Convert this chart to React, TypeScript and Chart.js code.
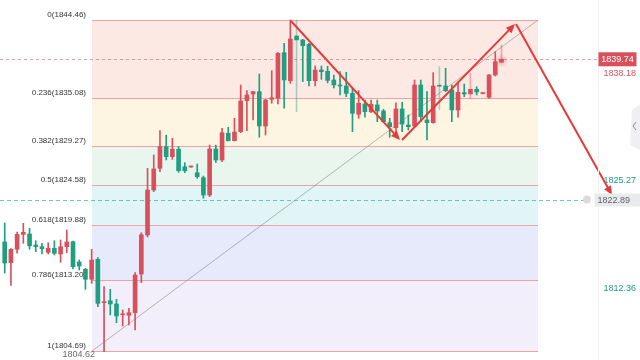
import React, { useEffect, useRef } from "react";
import { Chart, registerables } from "chart.js";

Chart.register(...registerables);

// ---- candle data (index order, left to right) ----
const opens = [
  1817.79, 1815.3, 1816.91, 1818.7, 1818.75, 1817.43, 1817.22, 1816.55, 1817.03, 1816.35,
  1817.22, 1817.82, 1815.38, 1814.51, 1813.31, 1815.71, 1810.5, 1810.73, 1810.34, 1809.04,
  1808.98, 1809.29, 1813.94, 1818.63, 1824.03, 1826.64, 1829.24, 1828.04, 1828.93, 1826.83,
  1826.8, 1826.11, 1825.51, 1823.43, 1828.96, 1827.64, 1830.85, 1829.96, 1831.04, 1834.76,
  1835.57, 1835.85, 1831.72, 1834.93, 1835.05, 1840.53, 1837.17, 1842.54, 1842.06, 1841.54,
  1837.17, 1838.45, 1838.3, 1837.25, 1836.65, 1836.53, 1835.65, 1833.13, 1834.37, 1833.44,
  1834.25, 1833.53, 1832.12, 1831.52, 1833.77, 1831.84, 1831.72, 1836.65, 1832.45, 1832.12,
  1836.55, 1836.53, 1836.05, 1833.65, 1835.73, 1835.57, 1836.13, 1835.62, 1835.17, 1837.85,
  1839.38,
];
const closes = [
  1815.26, 1816.91, 1818.71, 1818.95, 1817.34, 1817.22, 1816.98, 1817.03, 1816.43, 1817.22,
  1817.79, 1814.82, 1814.9, 1813.31, 1815.62, 1810.42, 1810.6, 1810.34, 1808.9, 1809.08,
  1809.29, 1813.82, 1818.66, 1824.03, 1826.56, 1829.24, 1828.04, 1828.93, 1826.35, 1826.35,
  1826.85, 1825.63, 1823.43, 1828.96, 1827.64, 1830.92, 1829.96, 1831.0, 1834.73, 1835.45,
  1835.85, 1831.72, 1834.85, 1835.12, 1840.46, 1837.25, 1842.18, 1842.06, 1841.37, 1837.17,
  1838.45, 1838.25, 1837.2, 1836.65, 1836.53, 1835.65, 1833.25, 1834.45, 1833.44, 1834.33,
  1833.53, 1832.24, 1831.64, 1833.77, 1831.96, 1831.64, 1836.65, 1832.84, 1832.12, 1836.53,
  1836.5, 1835.97, 1833.65, 1835.77, 1835.57, 1836.13, 1835.81, 1835.66, 1837.85, 1839.45,
  1839.74,
];
const highs = [
  1820.07, 1817.0, 1818.99, 1820.03, 1819.43, 1817.94, 1817.63, 1817.7, 1817.94, 1818.03,
  1819.23, 1817.9, 1815.62, 1814.63, 1816.91, 1815.9, 1812.42, 1812.1, 1810.9, 1809.62,
  1809.82, 1814.1, 1818.9, 1826.64, 1828.24, 1831.16, 1830.64, 1830.25, 1829.24, 1827.31,
  1826.9, 1827.16, 1825.71, 1829.44, 1829.44, 1831.45, 1831.57, 1832.65, 1836.65, 1835.97,
  1835.9, 1837.97, 1834.93, 1838.37, 1840.53, 1841.66, 1844.46, 1844.46, 1842.14, 1841.66,
  1838.93, 1838.93, 1838.9, 1837.85, 1838.25, 1838.18, 1836.25, 1835.97, 1834.85, 1834.85,
  1834.85, 1833.73, 1832.65, 1834.52, 1834.57, 1833.05, 1837.25, 1837.25, 1835.85, 1838.13,
  1838.85, 1838.66, 1836.65, 1836.85, 1836.77, 1838.06, 1836.45, 1835.7, 1837.9, 1840.65,
  1841.46,
];
const lows = [
  1814.06, 1812.58, 1816.43, 1817.63, 1816.91, 1816.62, 1816.35, 1816.35, 1816.22, 1815.35,
  1816.5, 1814.54, 1814.42, 1812.1, 1812.82, 1810.01, 1804.62, 1809.02, 1808.09, 1807.69,
  1807.81, 1807.21, 1812.9, 1818.39, 1823.83, 1826.23, 1827.64, 1827.72, 1826.16, 1826.11,
  1826.75, 1825.44, 1823.04, 1823.23, 1827.36, 1827.44, 1829.92, 1829.92, 1830.92, 1831.16,
  1832.45, 1830.37, 1830.64, 1834.45, 1834.37, 1833.85, 1836.85, 1833.44, 1837.05, 1836.53,
  1836.53, 1837.33, 1836.9, 1836.29, 1835.45, 1835.25, 1831.04, 1832.65, 1832.77, 1833.32,
  1832.24, 1832.12, 1830.37, 1830.85, 1831.04, 1831.24, 1831.64, 1832.24, 1830.04, 1832.05,
  1833.65, 1835.85, 1832.24, 1832.77, 1835.25, 1835.05, 1835.45, 1835.58, 1835.05, 1837.73,
  1839.3,
];
const candleIndex = opens.map((_, i) => i);

// ---- Fibonacci retracement ----
const fibLevels = ["0", "0.236", "0.382", "0.5", "0.618", "0.786", "1"];
const fibPrices = [1844.46, 1835.08, 1829.27, 1824.58, 1819.88, 1813.2, 1804.69];
const fibStartIndex = 14.06;
const fibEndIndex = 85.88;
const swingLowPrice = 1804.62;

// ---- price markers ----
const lastPrice = 1839.74;
const markPrice = 1822.89;
const sideLabelPrices = [1838.18, 1825.27, 1812.36];

// ---- drawn arrows (candle index, price) ----
const arrowFromX = [46.1, 63.98, 82.33];
const arrowFromY = [1844.34, 1830.04, 1843.98];
const arrowToX = [63.66, 82.17, 97.79];
const arrowToY = [1830.04, 1843.98, 1823.43];

// ---- styling ----
const UP = "#d9505c";
const DOWN = "#1f9e80";
const UP_PALE = "rgba(217,80,92,0.45)";
const DOWN_PALE = "rgba(31,158,128,0.4)";
const PALE_WICKS = [47, 70, 75, 80];
const GREEN_TEXT = "#1b9e80";
const FIB_BANDS = ["#fde9e4", "#fef4e2", "#e8f6ee", "#e1f5f7", "#e6eafb", "#f2eefa"];
const FIB_LINE = "#f0a2a6";
const FONT = '"Liberation Sans", Arial, sans-serif';

const fibPlugin = {
  id: "fibPlugin",
  beforeDatasetsDraw(chart: any) {
    const { ctx, scales, chartArea } = chart;
    const xs = scales.x;
    const ys = scales.y;
    const x0 = xs.getPixelForValue(fibStartIndex);
    const x1 = xs.getPixelForValue(fibEndIndex);
    ctx.save();
    for (let k = 0; k < fibPrices.length - 1; k++) {
      const ya = ys.getPixelForValue(fibPrices[k]);
      const yb = ys.getPixelForValue(fibPrices[k + 1]);
      ctx.fillStyle = FIB_BANDS[k];
      ctx.fillRect(x0, ya, x1 - x0, yb - ya);
    }
    ctx.strokeStyle = FIB_LINE;
    ctx.lineWidth = 1;
    ctx.font = `8px ${FONT}`;
    ctx.textAlign = "right";
    ctx.textBaseline = "middle";
    for (let k = 0; k < fibPrices.length; k++) {
      const yy = Math.round(ys.getPixelForValue(fibPrices[k])) + 0.5;
      ctx.beginPath();
      ctx.moveTo(x0, yy);
      ctx.lineTo(x1, yy);
      ctx.stroke();
      ctx.fillStyle = "#333333";
      ctx.fillText(`${fibLevels[k]}(${fibPrices[k].toFixed(2)})`, x0 - 6, yy - 6);
    }
    // swing low label
    ctx.font = `9px ${FONT}`;
    ctx.fillStyle = "#6b6b6b";
    ctx.fillText(swingLowPrice.toFixed(2), x0 + 3, ys.getPixelForValue(swingLowPrice) + 3);

    // diagonal trend line across fib box
    ctx.strokeStyle = "rgba(130,130,130,0.7)";
    ctx.lineWidth = 0.8;
    ctx.beginPath();
    ctx.moveTo(x0, ys.getPixelForValue(fibPrices[fibPrices.length - 1]));
    ctx.lineTo(x1, ys.getPixelForValue(fibPrices[0]));
    ctx.stroke();

    // dashed price lines
    ctx.setLineDash([3, 3]);
    ctx.lineWidth = 1;
    ctx.strokeStyle = "rgba(217,80,92,0.55)";
    let yl = Math.round(ys.getPixelForValue(lastPrice)) + 0.5;
    ctx.beginPath();
    ctx.moveTo(chartArea.left, yl);
    ctx.lineTo(chartArea.right, yl);
    ctx.stroke();
    ctx.strokeStyle = "rgba(60,180,165,0.75)";
    ctx.setLineDash([4, 3]);
    yl = Math.round(ys.getPixelForValue(markPrice)) + 0.5;
    ctx.beginPath();
    ctx.moveTo(chartArea.left, yl);
    ctx.lineTo(chartArea.right - 14, yl);
    ctx.stroke();
    ctx.setLineDash([]);

    // soft glow behind the live candle
    const li = candleIndex.length - 1;
    const gx = xs.getPixelForValue(li);
    const gy = ys.getPixelForValue((opens[li] + closes[li]) / 2);
    const grad = ctx.createRadialGradient(gx, gy, 0, gx, gy, 7);
    grad.addColorStop(0, "rgba(217,80,92,0.35)");
    grad.addColorStop(1, "rgba(217,80,92,0)");
    ctx.fillStyle = grad;
    ctx.beginPath();
    ctx.arc(gx, gy, 7, 0, Math.PI * 2);
    ctx.fill();
    ctx.restore();
  },
  afterDatasetsDraw(chart: any) {
    const { ctx, scales, chartArea } = chart;
    const xs = scales.x;
    const ys = scales.y;
    ctx.save();
    // arrows
    ctx.strokeStyle = "#e53a3a";
    ctx.fillStyle = "#e53a3a";
    ctx.lineWidth = 2;
    for (let k = 0; k < arrowFromX.length; k++) {
      const ax = xs.getPixelForValue(arrowFromX[k]);
      const ay = ys.getPixelForValue(arrowFromY[k]);
      const bx = xs.getPixelForValue(arrowToX[k]);
      const by = ys.getPixelForValue(arrowToY[k]);
      const ang = Math.atan2(by - ay, bx - ax);
      const len = 9;
      const cx = bx - Math.cos(ang) * len * 0.8;
      const cy = by - Math.sin(ang) * len * 0.8;
      ctx.beginPath();
      ctx.moveTo(ax, ay);
      ctx.lineTo(cx, cy);
      ctx.stroke();
      ctx.beginPath();
      ctx.moveTo(bx, by);
      ctx.lineTo(bx - Math.cos(ang) * len + Math.sin(ang) * 4, by - Math.sin(ang) * len - Math.cos(ang) * 4);
      ctx.lineTo(bx - Math.cos(ang) * len - Math.sin(ang) * 4, by - Math.sin(ang) * len + Math.cos(ang) * 4);
      ctx.closePath();
      ctx.fill();
    }

    // right side separator
    const rx = chartArea.right + 0.5;
    ctx.strokeStyle = "#f0f0f0";
    ctx.lineWidth = 1;
    ctx.beginPath();
    ctx.moveTo(rx, 0);
    ctx.lineTo(rx, chart.height);
    ctx.stroke();

    ctx.font = `9px ${FONT}`;
    ctx.textBaseline = "middle";
    // last price box
    let yy = ys.getPixelForValue(lastPrice);
    ctx.fillStyle = UP;
    ctx.fillRect(rx, yy - 7, 38, 14);
    ctx.fillStyle = "#ffffff";
    ctx.textAlign = "center";
    ctx.fillText(lastPrice.toFixed(2), rx + 19, yy);

    // mark price box + dot
    yy = ys.getPixelForValue(markPrice);
    ctx.fillStyle = "#dcdcdc";
    ctx.beginPath();
    ctx.arc(chartArea.right - 11, yy, 4, 0, Math.PI * 2);
    ctx.fill();
    ctx.fillStyle = "#e9eaee";
    ctx.fillRect(rx - 4, yy - 6, chart.width - rx + 4, 13);
    ctx.fillStyle = "#5f6368";
    ctx.textAlign = "left";
    ctx.fillText(markPrice.toFixed(2), rx - 1, yy + 0.5);

    // side labels
    ctx.textAlign = "right";
    sideLabelPrices.forEach((p, k) => {
      ctx.fillStyle = k === 0 ? UP : GREEN_TEXT;
      ctx.fillText(p.toFixed(2), chart.width - 4, ys.getPixelForValue(p) + 1);
    });

    // collapse tab
    ctx.fillStyle = "#f0f0f2";
    ctx.beginPath();
    ctx.moveTo(chart.width, 104);
    ctx.lineTo(chart.width - 8, 110);
    ctx.lineTo(chart.width - 10, 145);
    ctx.lineTo(chart.width, 150);
    ctx.closePath();
    ctx.fill();
    ctx.strokeStyle = "#8a8a8a";
    ctx.lineWidth = 1;
    ctx.beginPath();
    ctx.moveTo(chart.width - 4, 122);
    ctx.lineTo(chart.width - 7, 126);
    ctx.lineTo(chart.width - 4, 130);
    ctx.stroke();
    ctx.restore();
  },
};

export default function App() {
  const ref = useRef<HTMLCanvasElement | null>(null);
  useEffect(() => {
    if (!ref.current) return;
    const isUp = (i: number) => closes[i] >= opens[i];
    const colorFor = (i: number) => (isUp(i) ? UP : DOWN);
    const wickColor = (i: number) =>
      PALE_WICKS.includes(i) ? (isUp(i) ? UP_PALE : DOWN_PALE) : colorFor(i);
    const chart = new Chart(ref.current, {
      type: "bar",
      data: {
        datasets: [
          {
            label: "body",
            data: candleIndex.map((i) => ({ x: i, y: [opens[i], closes[i]] })) as any,
            backgroundColor: candleIndex.map((i) => colorFor(i)),
            barThickness: 4,
            minBarLength: 1,
            grouped: false,
            borderWidth: 0,
          } as any,
          {
            label: "wick",
            data: candleIndex.map((i) => ({ x: i, y: [lows[i], highs[i]] })) as any,
            backgroundColor: candleIndex.map((i) => wickColor(i)),
            barThickness: 1,
            grouped: false,
            borderWidth: 0,
          } as any,
        ],
      },
      options: {
        animation: false,
        responsive: false,
        layout: { padding: { left: 0, right: 42, top: 0, bottom: 0 } },
        plugins: { legend: { display: false }, tooltip: { enabled: false } },
        scales: {
          x: { type: "linear", min: -0.757, max: 95.54, offset: false, display: false },
          y: { min: 1803.61, max: 1846.86, display: false },
        },
      },
      plugins: [fibPlugin],
    });
    return () => chart.destroy();
  }, []);
  return (
    <div style={{ position: "fixed", left: 0, top: 0, width: 640, height: 360, background: "#fff" }}>
      <canvas ref={ref} width={640} height={360} />
    </div>
  );
}
